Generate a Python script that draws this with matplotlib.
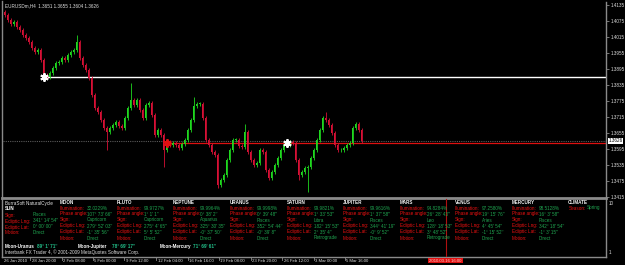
import matplotlib
matplotlib.use("Agg")
import matplotlib.pyplot as plt
from matplotlib.patches import Rectangle

# ---------------- data ----------------
symbol_header = "EURUSDm,H4  1.3651 1.3655 1.3604 1.3626"
first_open = 1.4110
closes = [
    1.4098, 1.4079, 1.4064, 1.4071, 1.4053, 1.4041, 1.4023, 1.4011, 1.3996, 1.3974,
    1.3959, 1.3966, 1.3929, 1.3873, 1.3865, 1.3880, 1.3899, 1.3918, 1.3921, 1.3936,
    1.3929, 1.3948, 1.3959, 1.3966, 1.3996, 1.3936, 1.3910, 1.3891, 1.3861, 1.3798,
    1.3749, 1.3734, 1.3704, 1.3674, 1.3659, 1.3674, 1.3685, 1.3696, 1.3681, 1.3674,
    1.3711, 1.3749, 1.3779, 1.3760, 1.3779, 1.3741, 1.3711, 1.3760, 1.3768, 1.3723,
    1.3648, 1.3666, 1.3648, 1.3591, 1.3618, 1.3610, 1.3618, 1.3610, 1.3599, 1.3614,
    1.3629, 1.3666, 1.3704, 1.3756, 1.3764, 1.3764, 1.3711, 1.3629, 1.3610, 1.3584,
    1.3573, 1.3460, 1.3479, 1.3498, 1.3554, 1.3591, 1.3629, 1.3629, 1.3606, 1.3603,
    1.3659, 1.3584, 1.3554, 1.3535, 1.3543, 1.3591, 1.3584, 1.3516, 1.3486, 1.3509,
    1.3535, 1.3561, 1.3591, 1.3610, 1.3610, 1.3621, 1.3618, 1.3554, 1.3498, 1.3509,
    1.3524, 1.3528, 1.3561, 1.3591, 1.3629, 1.3666, 1.3711, 1.3704, 1.3685, 1.3655,
    1.3610, 1.3591, 1.3591, 1.3599, 1.3610, 1.3618, 1.3674, 1.3689, 1.3666, 1.3626,
]
# notable wick extremes (bar index -> price)
spike_highs = {24: 1.4023, 42: 1.3843, 107: 1.3734, 80: 1.3690, 63: 1.3790}
spike_lows = {34: 1.3591, 53: 1.3528, 71: 1.3449, 101: 1.3434, 98: 1.3480}

price_ticks = [1.4135, 1.4075, 1.4015, 1.3955, 1.3895, 1.3835, 1.3775,
               1.3715, 1.3655, 1.3595, 1.3535, 1.3475, 1.3415]
ticks_text = ["1.4135", "1.4075", "1.4015", "1.3955", "1.3895", "1.3835", "1.3775",
              "1.3715", "1.3655", "1.3595", "1.3535", "1.3475", "1.3415"]
bid_price = 1.3626
white_level = 1.3865
red_level = 1.3618
star_bars = [13, 54, 94]
star_prices = [1.3865, 1.3618, 1.3618]
star_colors = ["white", "#e01010", "white"]

time_labels = ["26 Jan 2010", "28 Jan 20:00", "2 Feb 08:00", "5 Feb 00:00", "9 Feb 12:00",
               "12 Feb 04:00", "16 Feb 16:00", "19 Feb 08:00", "23 Feb 20:00",
               "26 Feb 12:00", "3 Mar 00:00", "5 Mar 16:00"]
time_label_bars = [-1.5, 8.5, 19.0, 29.5, 40.0, 50.5, 61.0, 71.5, 82.0, 92.5, 103.0, 113.5]
vline_bar = 147
vline_label = "2010.03.16 16:00"

sun_rows = [("Sign:", "Pisces"), ("Ecliptic Lng:", "341° 14' 54''"),
            ("Ecliptic Lat:", "0° 00' 00''"), ("Motion:", "Direct")]
planet_names = ["MOON", "PLUTO", "NEPTUNE", "URANUS", "SATURN", "JUPITER", "MARS", "VENUS", "MERCURY"]
row_labels = ["Illumination:", "Phase angle:", "Sign:", "Ecliptic Lng:", "Ecliptic Lat:", "Motion:"]
planet_values = [
    ["32.0229%", "107° 73' 66''", "Capricorn", "279° 52' 03''", "-1° 35' 56''", "Direct"],
    ["99.9727%", "1° 1' 1''", "Capricorn", "275° 4' 65''", "5° 5' 52''", "Direct"],
    ["99.9964%", "0° 38' 2''", "Aquarius", "325° 30' 35''", "-0° 37' 50''", "Direct"],
    ["99.9998%", "0° 39' 48''", "Pisces", "352° 54' 44''", "-0° 39' 8''", "Direct"],
    ["99.9821%", "1° 33' 53''", "Libra", "182° 15' 53''", "2° 35' 4''", "Retrograde"],
    ["99.9616%", "1° 37' 58''", "Pisces", "344° 41' 19''", "-0° 9' 52''", "Direct"],
    ["94.8284%", "26° 28' 43''", "Leo", "128° 18' 53''", "3° 48' 52''", "Retrograde"],
    ["97.2580%", "19° 15' 76''", "Aries", "4° 45' 54''", "-1° 15' 52''", "Direct"],
    ["98.5128%", "16° 3' 58''", "Pisces", "342° 18' 54''", "-1° 3' 15''", "Direct"],
]
aspects = [("Moon-Uranus", "89° 1' 71''"), ("Moon-Jupiter", "78° 69' 17''"),
           ("Moon-Mercury", "71° 69' 61''")]
season = "Spring"
copyright_text = "Interbank FX Trader 4, © 2001-2009 MetaQuotes Software Corp."

# ---------------- figure ----------------
W, H = 625, 265
fig = plt.figure(figsize=(W / 100, H / 100), dpi=100, facecolor="black")
plt.rcParams["font.family"] = ["Liberation Sans", "DejaVu Sans"]
FS = 3.3
GRAY = "#8a8a8a"
RED = "#ee1111"
GREEN = "#1fa550"
RIGHT = 606


def fx(px):
    return px / W


def fy(py):
    return 1 - py / H


def ftext(px, py, s, color="white", weight="normal", size=FS, **kw):
    fig.text(fx(px), fy(py), s, color=color, fontsize=size, fontweight=weight,
             ha=kw.pop("ha", "left"), va=kw.pop("va", "center"), **kw)


# main price axes: pixel x 3..606, y 2..197
ax = fig.add_axes([fx(3), fy(197), fx(RIGHT - 3), (197 - 2) / H], facecolor="black")
n = len(closes)
opens = [first_open] + closes[:-1]
xs = list(range(n))
XR = (RIGHT - 4.5) / 3
ax.set_xlim(-0.5, XR)
ax.set_ylim(1.3415, 1.414625)

# bid line (dotted) and horizontal levels
ax.axhline(bid_price, color="#5a5a5a", lw=0.8, ls=(0, (1, 1)), zorder=1)
ax.hlines(white_level, star_bars[0], XR, color="white", lw=1.0, zorder=1)
ax.hlines(red_level, star_bars[1], XR, color="#dd1010", lw=0.9, zorder=1)

wick_ext = 0.0007
for i in xs:
    o, c = opens[i], closes[i]
    hi = spike_highs.get(i, max(o, c) + wick_ext)
    lo = spike_lows.get(i, min(o, c) - wick_ext)
    col = "#1fd81f" if c >= o else "#d81035"
    ax.vlines(i, lo, hi, color=col, lw=0.6, zorder=2)
    body = abs(c - o)
    if body < 0.0002:
        body = 0.0002
    ax.add_patch(Rectangle((i - 0.3, min(o, c)), 0.6, body, facecolor=col,
                           edgecolor="none", zorder=3))

for b, p, c in zip(star_bars, star_prices, star_colors):
    ax.plot(b, p, marker=(6, 2, 0), markersize=6, color=c, mew=1.4, zorder=5)

ax.yaxis.tick_right()
ax.set_yticks(price_ticks)
ax.set_yticklabels(ticks_text)
ax.tick_params(axis="y", colors=GRAY, labelcolor="#dddddd", labelsize=FS,
               length=2, width=0.6, pad=1.2)
ax.set_xticks([])
for s in ["top", "bottom", "left"]:
    ax.spines[s].set_visible(False)
ax.spines["right"].set_color(GRAY)
ax.spines["right"].set_linewidth(1.0)

# current bid box on price axis
ax.text(1.004, (bid_price - 1.3415) / (1.414625 - 1.3415), "1.3626",
        transform=ax.transAxes, fontsize=FS, color="black", va="center", ha="left",
        bbox=dict(boxstyle="square,pad=0.15", facecolor="white", edgecolor="none"))

# header
ftext(5, 6, symbol_header, color="#e0e0e0")

# frame lines
fig.add_artist(plt.Line2D([fx(2), fx(2)], [fy(1), fy(257)], color=GRAY, lw=1.0))
fig.add_artist(plt.Line2D([fx(2), fx(RIGHT)], [fy(198), fy(198)], color=GRAY, lw=2.0))
fig.add_artist(plt.Line2D([fx(2), fx(RIGHT)], [fy(256.5), fy(256.5)], color=GRAY, lw=1.0))
fig.add_artist(plt.Line2D([fx(RIGHT), fx(RIGHT)], [fy(198), fy(257)], color=GRAY, lw=1.0))

# sub-window vertical line
sub_vx = 3 + (vline_bar + 0.5) * 3
fig.add_artist(plt.Line2D([fx(sub_vx), fx(sub_vx)], [fy(199), fy(256)], color="#b01010", lw=0.8))
ftext(609, 203.5, "10", color="#dddddd")
ftext(609, 252.5, "1", color="#dddddd")

# ---------------- text panel ----------------
ftext(5, 203, "BurraSoft NaturalCycle", color="#e8e8e8")
ftext(5, 209, "SUN", color="white", weight="bold")
for k, (lab, val) in enumerate(sun_rows):
    yy = 215 + 6 * k
    ftext(5, yy, lab, color=RED)
    ftext(33, yy, val, color=GREEN)

col_x0 = [60, 117, 173, 230, 287, 343, 400, 455, 512]
for name, vals, x0 in zip(planet_names, planet_values, col_x0):
    ftext(x0, 202, name, color="#f0f0f0", weight="bold")
    for k, (lab, val) in enumerate(zip(row_labels, vals)):
        yy = 208 + 6 * k
        ftext(x0, yy, lab, color=RED)
        ftext(x0 + 27, yy, val, color=GREEN)

ftext(568, 202, "CLIMATE", color="#f0f0f0", weight="bold")
ftext(569, 208, "Season:", color=RED)
ftext(587, 208, season, color=GREEN)

asp_x = [(5, 37), (78, 112), (160, 193)]
for (name, val), (xa, xb) in zip(aspects, asp_x):
    ftext(xa, 246.5, name, color="white", weight="bold")
    ftext(xb, 246.5, val, color="#22c08a", weight="bold")
ftext(5, 252, copyright_text, color="#e0e0e0")

# ---------------- time axis ----------------
for lab, b in zip(time_labels, time_label_bars):
    px = 3 + (b + 0.5) * 3
    if px < 3:
        px = 2
    else:
        fig.add_artist(plt.Line2D([fx(px), fx(px)], [fy(257), fy(260)], color=GRAY, lw=0.6))
    ftext(px + 1.5, 260.5, lab, color="#e0e0e0", size=3.1)

ftext(sub_vx, 260.5, vline_label, color="#ffd0d0", ha="center", size=3.1,
      bbox=dict(boxstyle="square,pad=0.2", facecolor="#e01010", edgecolor="none"))

fig.savefig("out.png", dpi=100, facecolor="black")
